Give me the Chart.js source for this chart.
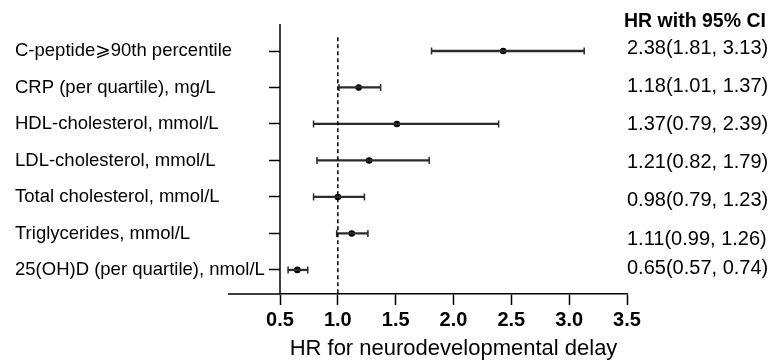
<!DOCTYPE html>
<html>
<head>
<meta charset="utf-8">
<script src="https://cdn.jsdelivr.net/npm/chart.js@4.4.1/dist/chart.umd.min.js"></script>
<style>
  html, body { margin: 0; padding: 0; background: #fff; }
  #wrap { width: 774px; height: 362px; }
</style>
</head>
<body>
<div id="wrap"><canvas id="forest"></canvas></div>
<script>
// rows, top to bottom
const rowLabels = [
  'C-peptide\u2A7E90th percentile',
  'CRP (per quartile), mg/L',
  'HDL-cholesterol, mmol/L',
  'LDL-cholesterol, mmol/L',
  'Total cholesterol, mmol/L',
  'Triglycerides, mmol/L',
  '25(OH)D (per quartile), nmol/L'
];
// dot positions as drawn in the figure
const hrPoint = [2.43, 1.18, 1.51, 1.27, 1.00, 1.12, 0.65];
const ciLow = [1.81, 1.01, 0.79, 0.82, 0.79, 0.99, 0.57];
const ciHigh = [3.13, 1.37, 2.39, 1.79, 1.23, 1.26, 0.74];
const hrText = [
  '2.38(1.81, 3.13)',
  '1.18(1.01, 1.37)',
  '1.37(0.79, 2.39)',
  '1.21(0.82, 1.79)',
  '0.98(0.79, 1.23)',
  '1.11(0.99, 1.26)',
  '0.65(0.57, 0.74)'
];
const xTicks = [0.5, 1.0, 1.5, 2.0, 2.5, 3.0, 3.5];
const refHR = 1.0;

const FONT = "'Liberation Sans', Arial, 'DejaVu Sans', 'Noto Sans CJK SC', sans-serif";
const INK = '#000';
const BAR = '#2b2b2b';

// y positions of the right-hand text column (not aligned exactly with rows)
const rightTextY = [48, 86, 124, 162, 200, 239, 268];

const rows = rowLabels.map((_, i) => i);

const forestDecor = {
  id: 'forestDecor',
  afterDraw(chart) {
    const { ctx, chartArea } = chart;
    ctx.save();
    ctx.strokeStyle = INK;
    ctx.lineWidth = 1.5;
    ctx.beginPath();
    // x axis line runs a bit past the y axis on the left
    ctx.moveTo(228, chartArea.bottom);
    ctx.lineTo(chartArea.left, chartArea.bottom);
    // y axis line
    ctx.moveTo(chartArea.left, chartArea.top);
    ctx.lineTo(chartArea.left, chartArea.bottom);
    ctx.stroke();

    ctx.fillStyle = INK;
    ctx.textAlign = 'left';
    ctx.textBaseline = 'middle';
    ctx.font = `bold 19.5px ${FONT}`;
    ctx.fillText('HR with 95% CI', 624, 22);
    ctx.font = `20px ${FONT}`;
    hrText.forEach((t, i) => ctx.fillText(t, 627, rightTextY[i]));
    ctx.restore();
  }
};

new Chart(document.getElementById('forest'), {
  type: 'scatter',
  data: {
    datasets: [{
      // null-effect reference line
      type: 'line',
      data: [{ x: refHR, y: -0.38 }, { x: refHR, y: 6.66 }],
      borderColor: INK,
      borderWidth: 1.5,
      borderDash: [4, 3],
      pointRadius: 0,
      showLine: true
    }, {
      // confidence interval
      type: 'bar',
      indexAxis: 'y',
      data: rows.map(i => ({ x: [ciLow[i], ciHigh[i]], y: i })),
      backgroundColor: BAR,
      barThickness: 1.6,
      borderWidth: 0
    }, {
      // whisker caps
      data: rows.flatMap(i => [{ x: ciLow[i], y: i }, { x: ciHigh[i], y: i }]),
      pointStyle: 'line',
      rotation: 90,
      pointRadius: 3.5,
      borderColor: BAR,
      borderWidth: 1.5
    }, {
      data: rows.map(i => ({ x: hrPoint[i], y: i })),
      pointRadius: 3.3,
      backgroundColor: INK,
      borderWidth: 0
    }]
  },
  options: {
    responsive: true,
    maintainAspectRatio: false,
    animation: false,
    layout: { padding: { left: 15, right: 147, top: 24, bottom: 0 } },
    plugins: { legend: { display: false }, tooltip: { enabled: false } },
    scales: {
      x: {
        type: 'linear',
        min: 0.5,
        max: 3.5,
        offset: false,
        afterBuildTicks: s => { s.ticks = xTicks.map(v => ({ value: v })); },
        afterFit: s => { s.height = 68; },
        ticks: {
          callback: v => Number(v).toFixed(1),
          color: INK,
          font: { family: FONT, size: 20, weight: 'bold' },
          padding: 3,
          maxRotation: 0
        },
        grid: { offset: false, drawOnChartArea: false, drawTicks: true, tickLength: 11, tickColor: INK, tickWidth: 1.5 },
        border: { display: true, color: INK, width: 1.5 },
        title: {
          display: true,
          text: 'HR for neurodevelopmental delay',
          color: INK,
          font: { family: FONT, size: 22 },
          padding: { top: 4, bottom: 0 }
        }
      },
      y: {
        type: 'linear',
        reverse: true,
        min: -0.74,
        max: 6.66,
        offset: false,
        afterBuildTicks: s => { s.ticks = rows.map(v => ({ value: v })); },
        afterFit: s => { s.width = 265; },
        ticks: {
          callback: v => rowLabels[v],
          color: INK,
          font: { family: FONT, size: 18.5 },
          crossAlign: 'far',
          padding: 4
        },
        grid: { offset: false, drawOnChartArea: false, drawTicks: true, tickLength: 11, tickColor: INK, tickWidth: 1.5 },
        border: { display: false }
      }
    }
  },
  plugins: [forestDecor]
});
</script>
</body>
</html>
